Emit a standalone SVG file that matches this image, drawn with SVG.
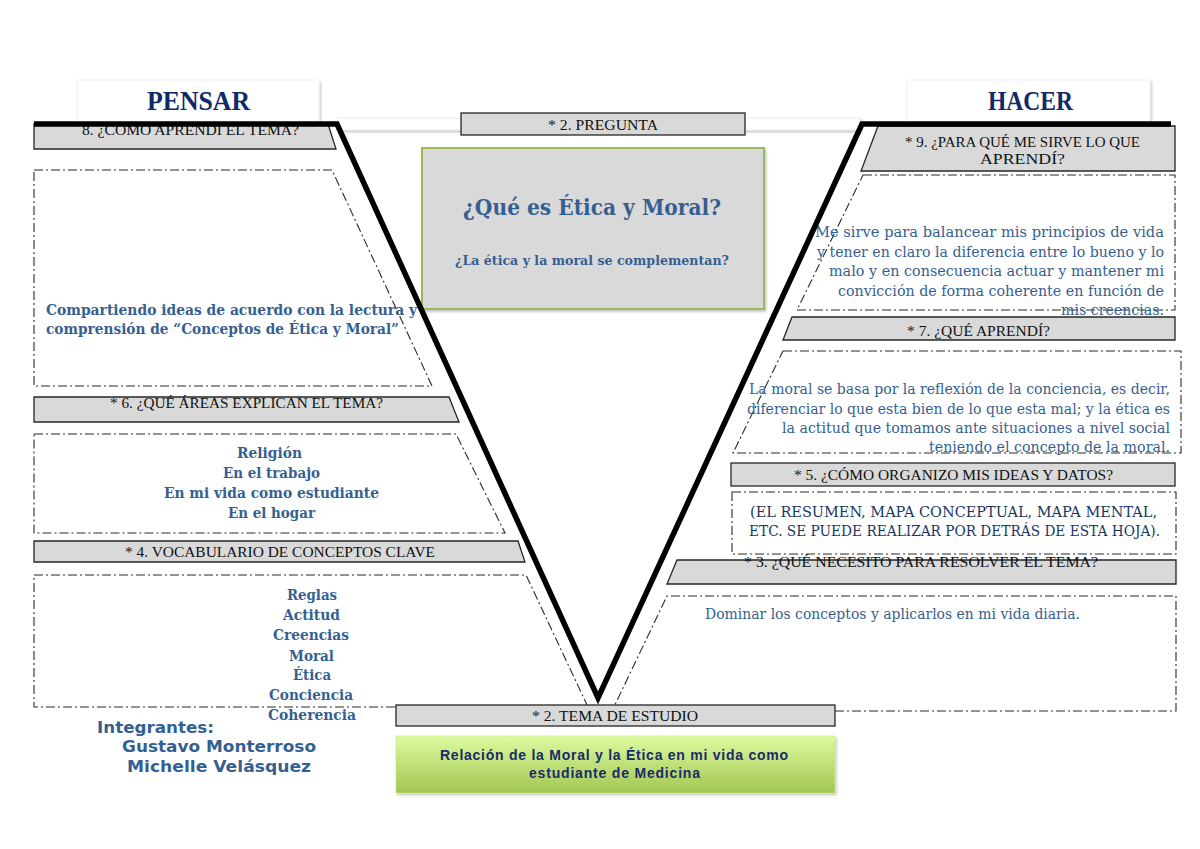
<svg xmlns="http://www.w3.org/2000/svg" width="1200" height="849" viewBox="0 0 1200 849">
<defs>
<filter id="sh" x="-5%" y="-20%" width="110%" height="150%"><feDropShadow dx="1.5" dy="2" stdDeviation="1.2" flood-color="#000" flood-opacity="0.22"/></filter>
<linearGradient id="gg" x1="0" y1="0" x2="0" y2="1"><stop offset="0" stop-color="#dcfa9f"/><stop offset="1" stop-color="#a3c752"/></linearGradient>
<style>
.hdr{font-family:"Liberation Serif",serif;font-weight:bold;font-size:28px;fill:#0f2a66}
.lbl{font-family:"Liberation Serif",serif;font-size:15px;fill:#111}
.bb{font-family:"DejaVu Serif","Liberation Serif",serif;font-weight:bold;font-size:14px;fill:#365f91}
.bt{font-family:"DejaVu Serif","Liberation Serif",serif;font-size:14px;fill:#365f91}
.nv{font-family:"DejaVu Serif","Liberation Serif",serif;font-size:14px;fill:#17375e}
.sans{font-family:"DejaVu Sans",sans-serif;font-weight:bold;font-size:15px;fill:#365f91}
.gt{font-family:"Liberation Sans",Arial,sans-serif;font-weight:bold;font-size:14px;fill:#1a2a6c}
.dash{fill:none;stroke:#2a2a2a;stroke-width:1.1;stroke-dasharray:9 3 2 3}
.gbox{fill:#d9d9d9;stroke:#262626;stroke-width:1.3}
</style>
</defs>
<rect width="1200" height="849" fill="#fff"/>

<g id="headers">
<rect x="338" y="118" width="522" height="12" fill="#fff" stroke="#e6e6e6" stroke-width="0.8" filter="url(#sh)"/>
<rect x="77" y="80" width="242" height="44" fill="#fff" stroke="#eeeeee" stroke-width="0.8" filter="url(#sh)"/>
<text class="hdr" x="147" y="110" textLength="103" lengthAdjust="spacingAndGlyphs">PENSAR</text>
<rect x="907" y="80" width="243" height="44" fill="#fff" stroke="#eeeeee" stroke-width="0.8" filter="url(#sh)"/>
<text class="hdr" x="988" y="110" textLength="85" lengthAdjust="spacingAndGlyphs">HACER</text>
</g>

<g id="pregunta">
<rect class="gbox" x="461" y="113" width="284" height="22"/>
<text class="lbl" x="548" y="130" textLength="110" lengthAdjust="spacingAndGlyphs">* 2. PREGUNTA</text>
<rect x="422" y="148" width="342" height="161" fill="#d9d9d9" stroke="#9bbb59" stroke-width="2" filter="url(#sh)"/>
<text class="bb" style="font-size:22px" x="463" y="215" textLength="258" lengthAdjust="spacingAndGlyphs">¿Qué es Ética y Moral?</text>
<text class="bb" style="font-size:12.5px" x="455" y="265" textLength="274" lengthAdjust="spacingAndGlyphs">¿La ética y la moral se complementan?</text>
</g>

<g id="q8">
<polygon class="gbox" points="34,124 328,124 336,149 34,149"/>
<text class="lbl" x="82" y="135" textLength="217" lengthAdjust="spacingAndGlyphs">8. ¿CÓMO APRENDÍ EL TEMA?</text>
<polygon class="dash" points="34,170 332,170 432,386 34,386"/>
<text class="bb" x="46" y="315" textLength="371" lengthAdjust="spacingAndGlyphs">Compartiendo ideas de acuerdo con la lectura y</text>
<text class="bb" x="46" y="334" textLength="353" lengthAdjust="spacingAndGlyphs">comprensión de “Conceptos de Ética y Moral”</text>
</g>

<g id="q6">
<polygon class="gbox" points="34,397 449,397 459,422 34,422"/>
<text class="lbl" x="110" y="408" textLength="273" lengthAdjust="spacingAndGlyphs">* 6. ¿QUÉ ÁREAS EXPLICAN EL TEMA?</text>
<polygon class="dash" points="34,434 456,434 505,533 34,533"/>
<text class="bb" x="237" y="458" textLength="65" lengthAdjust="spacingAndGlyphs">Religión</text>
<text class="bb" x="223" y="478" textLength="97" lengthAdjust="spacingAndGlyphs">En el trabajo</text>
<text class="bb" x="164" y="498" textLength="215" lengthAdjust="spacingAndGlyphs">En mi vida como estudiante</text>
<text class="bb" x="228" y="518" textLength="87" lengthAdjust="spacingAndGlyphs">En el hogar</text>
</g>

<g id="q4">
<polygon class="gbox" points="34,541 518,541 525,562 34,562"/>
<text class="lbl" x="125" y="557" textLength="310" lengthAdjust="spacingAndGlyphs">* 4. VOCABULARIO DE CONCEPTOS CLAVE</text>
<polygon class="dash" points="395,707 34,707 34,575 526,575 588,707"/>
<text class="bb" x="287" y="600" textLength="50" lengthAdjust="spacingAndGlyphs">Reglas</text>
<text class="bb" x="283" y="620" textLength="57" lengthAdjust="spacingAndGlyphs">Actitud</text>
<text class="bb" x="273" y="640" textLength="76" lengthAdjust="spacingAndGlyphs">Creencias</text>
<text class="bb" x="289" y="661" textLength="45" lengthAdjust="spacingAndGlyphs">Moral</text>
<text class="bb" x="293" y="680" textLength="38" lengthAdjust="spacingAndGlyphs">Ética</text>
<text class="bb" x="269" y="700" textLength="84" lengthAdjust="spacingAndGlyphs">Conciencia</text>
<text class="bb" x="268" y="720" textLength="88" lengthAdjust="spacingAndGlyphs">Coherencia</text>
</g>

<g id="integrantes">
<text class="sans" x="97" y="733" textLength="117" lengthAdjust="spacingAndGlyphs">Integrantes:</text>
<text class="sans" x="122" y="752" textLength="194" lengthAdjust="spacingAndGlyphs">Gustavo Monterroso</text>
<text class="sans" x="127" y="772" textLength="184" lengthAdjust="spacingAndGlyphs">Michelle Velásquez</text>
</g>

<g id="q9">
<polygon class="gbox" points="878,126 1175,126 1175,171 861,171"/>
<text class="lbl" x="905" y="147" textLength="235" lengthAdjust="spacingAndGlyphs">* 9. ¿PARA QUÉ ME SIRVE LO QUE</text>
<text class="lbl" x="980" y="164" textLength="85" lengthAdjust="spacingAndGlyphs">APRENDÍ?</text>
<polygon class="dash" points="863,175 1175,175 1175,310 797,310"/>
<text class="bt" x="815" y="237" textLength="349" lengthAdjust="spacingAndGlyphs">Me sirve para balancear mis principios de vida</text>
<text class="bt" x="817" y="257" textLength="347" lengthAdjust="spacingAndGlyphs">y tener en claro la diferencia entre lo bueno y lo</text>
<text class="bt" x="829" y="276" textLength="335" lengthAdjust="spacingAndGlyphs">malo y en consecuencia actuar y mantener mi</text>
<text class="bt" x="838" y="296" textLength="326" lengthAdjust="spacingAndGlyphs">convicción de forma coherente en función de</text>
<text class="bt" x="1061" y="315" textLength="103" lengthAdjust="spacingAndGlyphs">mis creencias.</text>
</g>

<g id="q7">
<polygon class="gbox" points="792,317 1175,317 1175,340 783,340"/>
<text class="lbl" x="907" y="336" textLength="143" lengthAdjust="spacingAndGlyphs">* 7. ¿QUÉ APRENDÍ?</text>
<polygon class="dash" points="783,351 1181,351 1181,453 733,453"/>
<text class="bt" x="749" y="394" textLength="421" lengthAdjust="spacingAndGlyphs">La moral se basa por la reflexión de la conciencia, es decir,</text>
<text class="bt" x="747" y="414" textLength="423" lengthAdjust="spacingAndGlyphs">diferenciar lo que esta bien de lo que esta mal; y la ética es</text>
<text class="bt" x="782" y="433" textLength="388" lengthAdjust="spacingAndGlyphs">la actitud que tomamos ante situaciones a nivel social</text>
<text class="bt" x="929" y="452" textLength="241" lengthAdjust="spacingAndGlyphs">teniendo el concepto de la moral.</text>
</g>

<g id="q5">
<rect class="gbox" x="731" y="463" width="444" height="23"/>
<text class="lbl" x="794" y="480" textLength="319" lengthAdjust="spacingAndGlyphs">* 5. ¿CÓMO ORGANIZO MIS IDEAS Y DATOS?</text>
<rect class="dash" x="732" y="492" width="444" height="62"/>
<text class="nv" x="750" y="517" textLength="407" lengthAdjust="spacingAndGlyphs">(EL RESUMEN, MAPA CONCEPTUAL, MAPA MENTAL,</text>
<text class="nv" x="749" y="536" textLength="411" lengthAdjust="spacingAndGlyphs">ETC. SE PUEDE REALIZAR POR DETRÁS DE ESTA HOJA).</text>
</g>

<g id="q3">
<polygon class="gbox" points="677,560 1176,560 1176,584 667,584"/>
<text class="lbl" x="744" y="567" textLength="354" lengthAdjust="spacingAndGlyphs">* 3. ¿QUÉ NECESITO PARA RESOLVER EL TEMA?</text>
<polygon class="dash" points="835,711 1176,711 1176,596 667,596 612,711"/>
<text class="bt" x="705" y="619" textLength="375" lengthAdjust="spacingAndGlyphs">Dominar los conceptos y aplicarlos en mi vida diaria.</text>
</g>

<g id="tema">
<rect class="gbox" x="396" y="705" width="439" height="21"/>
<text class="lbl" x="532" y="721" textLength="166" lengthAdjust="spacingAndGlyphs">* 2. TEMA DE ESTUDIO</text>
<rect x="396" y="736" width="439" height="57" fill="url(#gg)" stroke="#c5e08a" stroke-width="0.6" filter="url(#sh)"/>
<text class="gt" x="440" y="760" textLength="348" lengthAdjust="spacing">Relación de la Moral y la Ética en mi vida como</text>
<text class="gt" x="529" y="778" textLength="171" lengthAdjust="spacing">estudiante de Medicina</text>
</g>

<g id="connectors">
<polyline points="34,124 337,124 598,698 862,124 1171,124" fill="none" stroke="#000" stroke-width="5.5" stroke-linejoin="miter" stroke-miterlimit="10"/>
</g>
</svg>
